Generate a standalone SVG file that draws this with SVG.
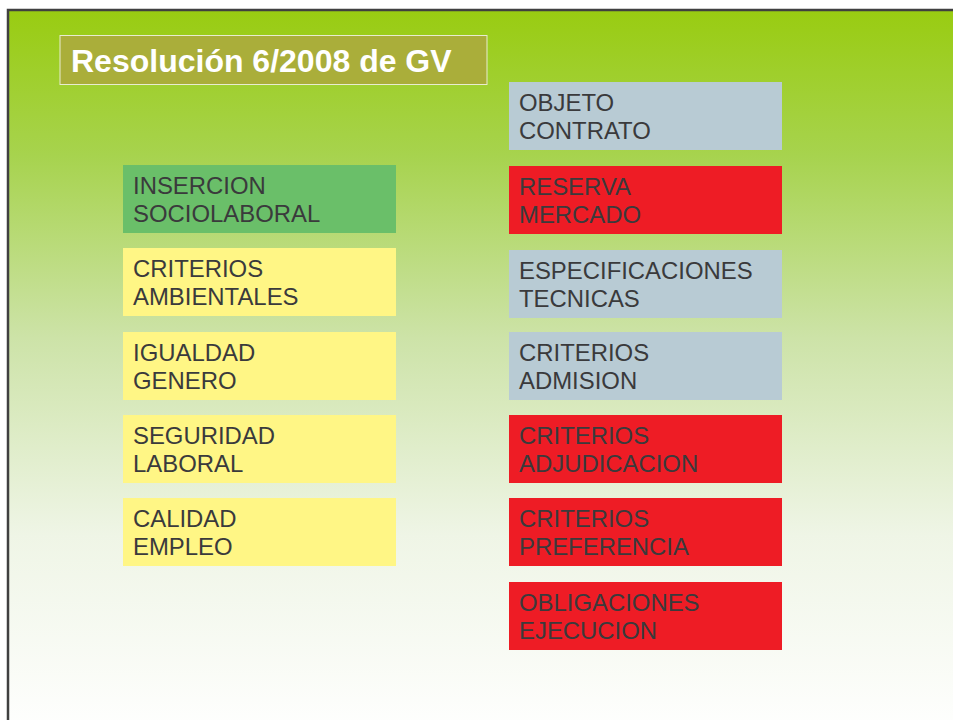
<svg xmlns="http://www.w3.org/2000/svg" width="953" height="720" viewBox="0 0 953 720">
<defs>
<linearGradient id="bg" x1="0" y1="0" x2="0" y2="1">
<stop offset="0" stop-color="#99cc11"/>
<stop offset="0.2" stop-color="#a7d34e"/>
<stop offset="0.45" stop-color="#cde3a8"/>
<stop offset="0.72" stop-color="#eff5e6"/>
<stop offset="1" stop-color="#ffffff"/>
</linearGradient>
<style>
.t{font-family:"Liberation Sans",Arial,sans-serif;font-size:23.9px;fill:#3a3a3c}
.title{font-family:"Liberation Sans",Arial,sans-serif;font-size:32px;font-weight:bold;fill:#ffffff}
.green{fill:#6abf69}
.yellow{fill:#fff685}
.grey{fill:#b8cbd4}
.red{fill:#ee1c25}
</style>
</defs>
<rect x="0" y="0" width="953" height="720" fill="#ffffff"/>
<rect x="8" y="10" width="960" height="730" fill="url(#bg)" stroke="#404040" stroke-width="2.5"/>
<g id="title">
<rect x="60" y="35.5" width="427" height="49" fill="#aaae3a" stroke="#e8ecd0" stroke-width="1"/>
<text class="title" x="71" y="72">Resolución 6/2008 de GV</text>
</g>
<g id="insercion"><rect class="green" x="123" y="165" width="273" height="68"/><text class="t" x="133" y="194">INSERCION</text><text class="t" x="133" y="222">SOCIOLABORAL</text></g>
<g id="ambientales"><rect class="yellow" x="123" y="248" width="273" height="68"/><text class="t" x="133" y="277">CRITERIOS</text><text class="t" x="133" y="305">AMBIENTALES</text></g>
<g id="igualdad"><rect class="yellow" x="123" y="332" width="273" height="68"/><text class="t" x="133" y="361">IGUALDAD</text><text class="t" x="133" y="389">GENERO</text></g>
<g id="seguridad"><rect class="yellow" x="123" y="415" width="273" height="68"/><text class="t" x="133" y="444">SEGURIDAD</text><text class="t" x="133" y="472">LABORAL</text></g>
<g id="calidad"><rect class="yellow" x="123" y="498" width="273" height="68"/><text class="t" x="133" y="527">CALIDAD</text><text class="t" x="133" y="555">EMPLEO</text></g>
<g id="objeto"><rect class="grey" x="509" y="82" width="273" height="68"/><text class="t" x="519" y="111">OBJETO</text><text class="t" x="519" y="139">CONTRATO</text></g>
<g id="reserva"><rect class="red" x="509" y="166" width="273" height="68"/><text class="t" x="519" y="195">RESERVA</text><text class="t" x="519" y="223">MERCADO</text></g>
<g id="especificaciones"><rect class="grey" x="509" y="250" width="273" height="68"/><text class="t" x="519" y="279">ESPECIFICACIONES</text><text class="t" x="519" y="307">TECNICAS</text></g>
<g id="admision"><rect class="grey" x="509" y="332" width="273" height="68"/><text class="t" x="519" y="361">CRITERIOS</text><text class="t" x="519" y="389">ADMISION</text></g>
<g id="adjudicacion"><rect class="red" x="509" y="415" width="273" height="68"/><text class="t" x="519" y="444">CRITERIOS</text><text class="t" x="519" y="472">ADJUDICACION</text></g>
<g id="preferencia"><rect class="red" x="509" y="498" width="273" height="68"/><text class="t" x="519" y="527">CRITERIOS</text><text class="t" x="519" y="555">PREFERENCIA</text></g>
<g id="obligaciones"><rect class="red" x="509" y="582" width="273" height="68"/><text class="t" x="519" y="611">OBLIGACIONES</text><text class="t" x="519" y="639">EJECUCION</text></g>
<g id="connectors"></g>
</svg>
